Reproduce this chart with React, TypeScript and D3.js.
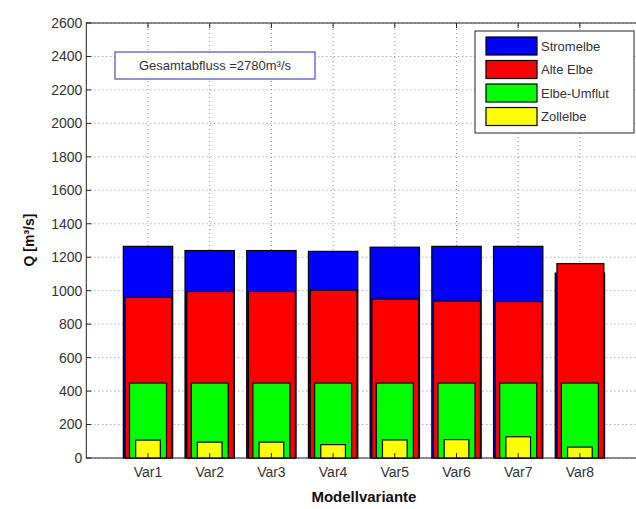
import React from "react";
import * as d3 from "d3";

const categories = ["Var1", "Var2", "Var3", "Var4", "Var5", "Var6", "Var7", "Var8"];
const stromelbe = [1265, 1240, 1240, 1235, 1260, 1265, 1265, 1105];
const alteElbe = [960, 995, 995, 1003, 950, 938, 935, 1162];
const elbeUmflut = [448, 448, 448, 448, 448, 448, 448, 448];
const zollelbe = [107, 95, 95, 80, 108, 110, 127, 65];
const yTicks = [0, 200, 400, 600, 800, 1000, 1200, 1400, 1600, 1800, 2000, 2200, 2400, 2600];
const seriesNames = ["Stromelbe", "Alte Elbe", "Elbe-Umflut", "Zollelbe"];

const W = 636, H = 509;
const colors = ["#0000ff", "#ff0000", "#00ff00", "#ffff00"];
const widths = [0.8, 0.76, 0.6, 0.4];
const font = "'Liberation Sans', Arial, sans-serif";

export default function App() {
  const x = d3.scaleLinear().domain([0, 9]).range([86.3, 641.6]);
  const y = d3.scaleLinear().domain([0, 2600]).range([458, 23]);
  const step = x(1) - x(0);
  const series = [stromelbe, alteElbe, elbeUmflut, zollelbe];
  const [x0, x1] = x.range();
  const [yb, yt] = y.range();

  return (
    <svg width={W} height={H} style={{ position: "absolute", left: 0, top: 0, background: "#fff" }}>
      <rect x={0} y={0} width={W} height={H} fill="#fff" />
      {/* grid */}
      {yTicks.map((t) => (
        <line key={"gy" + t} x1={x0} x2={x1} y1={y(t)} y2={y(t)} stroke="#8a8a8a" strokeWidth={1} strokeDasharray="1,3" />
      ))}
      {categories.map((c, i) => (
        <line key={"gx" + c} x1={x(i + 1)} x2={x(i + 1)} y1={yb} y2={yt} stroke="#8a8a8a" strokeWidth={1} strokeDasharray="1,3" />
      ))}
      {/* bars */}
      {series.map((vals, s) =>
        vals.map((v, i) => {
          const w = widths[s] * step;
          return (
            <rect
              key={`b${s}-${i}`}
              x={x(i + 1) - w / 2 + (s === 1 ? 0.5 : 0)}
              y={y(v)}
              width={w}
              height={y(0) - y(v)}
              fill={colors[s]}
              stroke="#000"
              strokeWidth={1.2}
            />
          );
        })
      )}
      {/* axes box */}
      <rect x={x0} y={yt} width={x1 - x0} height={yb - yt} fill="none" stroke="#222" strokeWidth={1} />
      {yTicks.map((t) => (
        <g key={"ty" + t}>
          <line x1={x0} x2={x0 + 5} y1={y(t)} y2={y(t)} stroke="#222" />
          <text x={x0 - 4} y={y(t)} dy="0.35em" textAnchor="end" fontFamily={font} fontSize={14} fill="#333">
            {t}
          </text>
        </g>
      ))}
      {categories.map((c, i) => (
        <g key={"tx" + c}>
          <line x1={x(i + 1)} x2={x(i + 1)} y1={yb} y2={yb - 5} stroke="#222" />
          <line x1={x(i + 1)} x2={x(i + 1)} y1={yt} y2={yt + 5} stroke="#222" />
          <text x={x(i + 1)} y={yb + 19} textAnchor="middle" fontFamily={font} fontSize={14} fill="#333">
            {c}
          </text>
        </g>
      ))}
      {/* axis labels */}
      <text x={(x0 + x1) / 2} y={502} textAnchor="middle" fontFamily={font} fontSize={15} fontWeight="bold" fill="#111">
        Modellvariante
      </text>
      <text transform={`translate(34,240) rotate(-90)`} textAnchor="middle" fontFamily={font} fontSize={14} fontWeight="bold" fill="#111">
        Q [m³/s]
      </text>
      {/* annotation */}
      <rect x={115} y={52} width={200} height={27} fill="#fff" stroke="#4a4ad0" strokeWidth={1.2} />
      <text x={215} y={70} textAnchor="middle" fontFamily={font} fontSize={13} fill="#333">
        Gesamtabfluss =2780m³/s
      </text>
      {/* legend */}
      <rect x={475} y={31} width={159} height={102} fill="#fff" stroke="#222" strokeWidth={1} />
      {seriesNames.map((n, i) => (
        <g key={"lg" + n}>
          <rect x={486} y={37 + i * 23.5} width={51} height={18} fill={colors[i]} stroke="#000" strokeWidth={1.2} />
          <text x={541} y={46 + i * 23.5} dy="0.35em" fontFamily={font} fontSize={13} fill="#333">
            {n}
          </text>
        </g>
      ))}
    </svg>
  );
}
